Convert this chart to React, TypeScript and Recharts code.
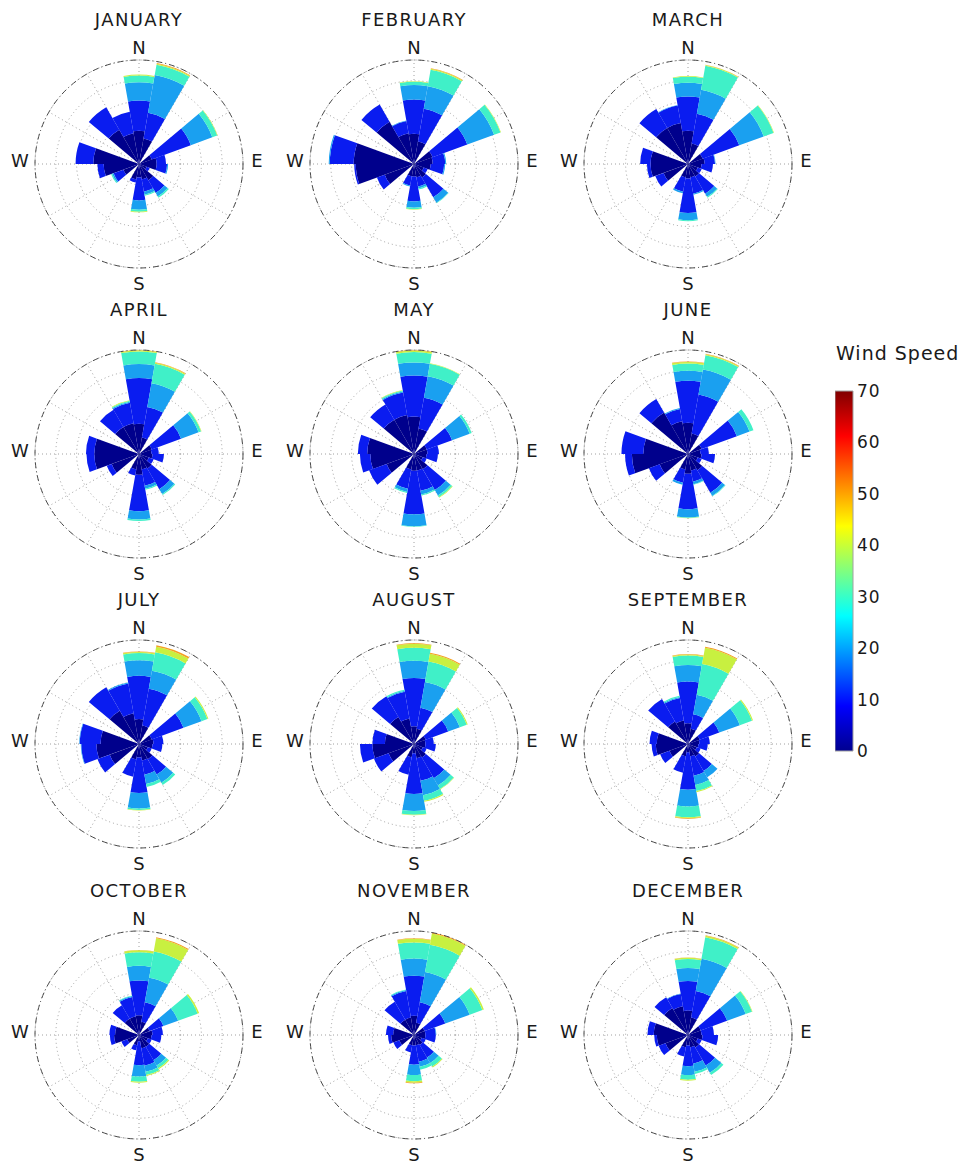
import React from 'react'
import {
  RadialBarChart, RadialBar, PolarAngleAxis, PolarRadiusAxis, PolarGrid,
  BarChart, Bar, XAxis, YAxis,
} from 'recharts'

// direction sectors (degrees clockwise from north), 20 degree bins
const BEARINGS = [0, 20, 40, 60, 80, 100, 120, 140, 160, 180, 200, 220, 240, 260, 280, 300, 320, 340]
const GRID_BEARINGS = [0, 30, 60, 90, 120, 150, 180, 210, 240, 270, 300, 330]
const COMPASS_LABELS = ['N', 'E', 'S', 'W']
const SPEED_TICKS = [0, 10, 20, 30, 40, 50, 60, 70]
// speed classes 0-10, 10-20, 20-30, 30-40, 40-50, 50-60
const BIN_KEYS = ['s0', 's1', 's2', 's3', 's4', 's5']
const BIN_COLORS = ['#00008c', '#0a1cf0', '#1aa0f0', '#40f0c8', '#c8f040', '#f5a020']

// frequency per sector, split by speed class (outer circle = 10)
const JAN = [
  [3.2, 2.9, 1.75, 0.65, 0.1], [2.5, 2.5, 3.7, 1.0, 0.1, 0.05], [0], [1.3, 4.0, 2.2, 0.5, 0.05],
  [1.7, 0.9], [1.7, 1.0, 0.1], [0.8, 0.3], [1.8, 1.4, 0.4, 0.15], [1.5, 1.2, 0.3, 0.1],
  [1.3, 2.2, 0.9, 0.2, 0.05], [1.5, 0.3], [0], [1.6, 1.0, 0.15, 0.1], [3.4, 0.6],
  [4.4, 1.7], [0], [3.8, 2.5], [3.0, 2.1],
]
const FEB = [
  [2.9, 3.3, 1.4, 0.3, 0.05], [2.2, 3.2, 2.2, 1.6, 0.1, 0.05], [0], [1.9, 3.55, 2.75, 0.65, 0.05],
  [1.8, 1.2, 0.1], [1.6, 1.3, 0.1], [1.0, 0.4], [1.5, 2.2, 0.6, 0.05], [1.3, 0.9, 0.2, 0.1],
  [1.2, 2.4, 0.6, 0.15, 0.05], [1.2, 0.9, 0.1], [0], [3.0, 0.8], [5.6, 0.15],
  [5.8, 2.3, 0.1], [0], [4.7, 1.9], [3.0, 1.2, 0.05],
]
const MAR = [
  [3.2, 3.3, 1.3, 0.6, 0.05], [2.0, 2.9, 2.35, 2.35, 0.07, 0.03], [0], [1.5, 3.75, 2.5, 1.0, 0.05],
  [1.6, 1.0, 0.05], [1.3, 1.1], [1.0, 0.4], [1.4, 1.9, 0.35, 0.1], [1.3, 1.6, 0.1],
  [1.4, 3.3, 0.7, 0.1], [1.3, 1.4, 0.15], [0], [2.5, 0.85], [3.6, 0.35],
  [3.6, 1.0], [0], [4.0, 2.1], [4.0, 1.7, 0.05],
]
const APR = [
  [2.9, 4.4, 1.35, 1.2, 0.12, 0.03], [1.6, 3.0, 2.3, 1.9, 0.12, 0.05], [0], [1.3, 3.0, 1.8, 0.25, 0.05],
  [1.2, 0.7], [1.3, 1.1], [1.0, 0.5], [1.6, 2.3, 0.55, 0.1], [1.5, 1.6, 0.3, 0.1],
  [2.0, 3.5, 0.8, 0.15], [1.5, 0.6], [0], [2.8, 0.5], [4.3, 0.75],
  [4.3, 0.8], [0], [3.0, 1.9], [3.0, 2.0, 0.1, 0.1, 0.05],
]
const MAY = [
  [3.6, 3.95, 1.25, 1.0, 0.15, 0.05], [2.5, 3.0, 2.1, 1.2, 0.05], [0], [1.3, 2.6, 1.8, 0.2],
  [1.3, 1.1], [1.2, 1.1], [0.9, 0.4], [1.7, 2.3, 0.6, 0.2, 0.05], [1.6, 2.0, 0.35, 0.1],
  [1.6, 4.2, 1.15, 0.05], [1.5, 1.9, 0.3, 0.1], [0], [2.8, 1.8], [4.2, 1.0],
  [4.5, 0.9], [0], [3.8, 1.7], [3.8, 2.2, 0.1, 0.1, 0.05],
]
const JUN = [
  [3.0, 4.05, 0.95, 0.7, 0.15, 0.05], [2.0, 3.8, 2.45, 1.4, 0.1, 0.05], [0], [1.4, 3.6, 1.3, 0.4],
  [1.2, 0.8], [1.3, 1.3], [1.0, 0.4], [1.8, 2.5, 0.35, 0.05], [1.6, 1.1, 0.25, 0.05],
  [1.9, 3.4, 0.8, 0.05, 0.03], [1.5, 1.3, 0.2], [0], [2.9, 1.1], [5.4, 0.65],
  [4.3, 2.1], [0], [4.6, 1.5], [3.2, 1.2, 0.1],
]
const JUL = [
  [2.4, 4.15, 1.5, 0.7, 0.1, 0.05], [1.8, 3.6, 1.75, 1.8, 0.55, 0.15], [0], [1.3, 3.25, 1.85, 0.6, 0.1],
  [1.4, 0.95], [1.3, 0.95], [0.9, 0.4], [1.7, 1.7, 0.9, 0.25], [1.6, 1.4, 0.9, 0.3],
  [1.3, 3.4, 1.5, 0.15, 0.05], [1.5, 1.7], [0], [3.0, 1.25], [4.1, 1.45, 0.05],
  [3.7, 2.0, 0.05], [0], [3.7, 2.6], [3.0, 2.9, 0.1],
]
const AUG = [
  [1.7, 4.65, 1.65, 1.25, 0.4, 0.05], [1.5, 2.05, 2.5, 2.0, 0.75, 0.1], [0], [1.2, 2.3, 1.2, 0.7, 0.1],
  [1.1, 0.8], [1.1, 1.0], [0.9, 0.4], [1.5, 2.3, 0.8, 0.4, 0.05], [1.4, 2.2, 1.4, 0.55, 0.1],
  [0.9, 3.9, 1.65, 0.35, 0.05], [1.3, 1.7], [0], [2.6, 1.5], [4.0, 1.2],
  [2.8, 1.2], [0], [3.0, 2.3], [2.5, 2.6, 0.1, 0.1],
]
const SEP = [
  [2.0, 4.0, 1.6, 0.9, 0.1, 0.05], [1.5, 1.4, 1.9, 3.0, 1.6, 0.1], [0], [1.2, 2.0, 2.1, 1.25, 0.1],
  [1.1, 1.0], [1.0, 0.9], [0.9, 0.4], [1.4, 1.6, 0.7], [1.2, 1.9, 0.9, 0.6, 0.1],
  [0.8, 3.6, 1.6, 1.05, 0.1, 0.05], [1.2, 1.6], [0], [1.9, 0.95], [3.1, 0.4],
  [3.0, 0.7], [0], [2.5, 2.5], [2.3, 2.2, 0.1, 0.1],
]
const OCT = [
  [1.9, 3.35, 1.4, 1.3, 0.2, 0.03], [1.3, 1.9, 2.4, 2.55, 1.3, 0.1], [0], [1.1, 1.4, 1.5, 2.0, 0.15],
  [1.3, 1.0], [1.2, 0.95], [0.9, 0.4], [1.3, 1.5, 0.6, 0.3, 0.1], [1.3, 1.7, 0.6, 0.3, 0.1],
  [0.6, 2.3, 1.1, 0.5, 0.1], [1.0, 0.5], [0], [1.2, 0.6], [2.4, 0.4],
  [2.3, 0.55], [0], [1.8, 1.5], [1.8, 1.9, 0.1, 0.05],
]
const NOV = [
  [1.85, 3.85, 1.65, 1.55, 0.35, 0.05], [1.2, 2.0, 2.95, 2.65, 1.1, 0.1], [0], [1.1, 2.1, 2.5, 1.3, 0.15],
  [1.1, 1.0, 0.05], [1.1, 1.0], [0.8, 0.4], [1.1, 1.4, 0.6, 0.4, 0.1], [1.0, 1.6, 0.5, 0.3],
  [1.0, 1.85, 1.0, 0.6, 0.15, 0.05], [1.0, 0.7], [0], [1.5, 0.6], [2.2, 0.3],
  [2.0, 0.7], [0], [1.7, 2.0], [1.7, 2.6, 0.1, 0.05],
]
const DEC = [
  [2.35, 2.85, 1.25, 0.85, 0.12, 0.03], [1.7, 2.6, 3.15, 2.1, 0.15, 0.05], [0], [1.3, 2.7, 1.9, 0.65, 0.05],
  [1.3, 1.2], [1.4, 1.5], [1.0, 0.4], [1.4, 2.0, 0.8, 0.25], [1.2, 1.6, 0.8, 0.2],
  [1.0, 2.0, 0.85, 0.45, 0.1], [1.2, 0.9], [0], [2.3, 0.7], [3.0, 0.25],
  [3.3, 0.6], [0], [3.0, 1.2], [2.8, 1.2, 0.05],
]

const MONTHS = [
  { name: 'JANUARY', rows: JAN }, { name: 'FEBRUARY', rows: FEB }, { name: 'MARCH', rows: MAR },
  { name: 'APRIL', rows: APR }, { name: 'MAY', rows: MAY }, { name: 'JUNE', rows: JUN },
  { name: 'JULY', rows: JUL }, { name: 'AUGUST', rows: AUG }, { name: 'SEPTEMBER', rows: SEP },
  { name: 'OCTOBER', rows: OCT }, { name: 'NOVEMBER', rows: NOV }, { name: 'DECEMBER', rows: DEC },
]

const COL_X = [139, 414, 688]
const ROW_Y = [164, 454, 744, 1035]
const FONT = '"DejaVu Sans", Verdana, sans-serif'
const R = 104
const HALF = 135
// label offsets from the rose centre: N, E, S, W
const COMPASS_POS = [[0, -116], [118, -3], [0, 120], [-119, -3]]

const JET_STOPS: [number, string][] = [
  [0, '#00008f'], [0.125, '#0000ff'], [0.375, '#00ffff'],
  [0.625, '#ffff00'], [0.875, '#ff0000'], [1, '#800000'],
]

function toRows(rows: number[][]) {
  return BEARINGS.map((b, i) => {
    const row: any = { dir: String(b) }
    BIN_KEYS.forEach((k, j) => { row[k] = rows[i][j] ?? 0 })
    return row
  })
}

function Rose({ rows }: { rows: number[][] }) {
  const data = toRows(rows)
  return (
    <RadialBarChart
      width={HALF * 2} height={HALF * 2} data={data}
      cx={HALF} cy={HALF} innerRadius={0} outerRadius={R}
      startAngle={80} endAngle={-280}
      layout="centric" barCategoryGap={0} margin={{ top: 0, right: 0, bottom: 0, left: 0 }}
    >
      <PolarGrid
        gridType="circle"
        polarAngles={GRID_BEARINGS.map(b => 90 - b)}
        stroke="#a0a0a0" strokeDasharray="1 3"
      />
      <PolarAngleAxis
        type="category" dataKey="dir" tick={false} tickLine={false}
        axisLineType="circle"
        axisLine={{ stroke: '#4a4a4a', strokeDasharray: '6 3 1 3', strokeWidth: 1 }}
      />
      <PolarRadiusAxis type="number" domain={[0, 10]} tickCount={6} tick={false} axisLine={false} />
      {BIN_KEYS.map((k, j) => (
        <RadialBar key={k} dataKey={k} stackId="ws" fill={BIN_COLORS[j]} isAnimationActive={false} />
      ))}
    </RadialBarChart>
  )
}

function ColorBar() {
  return (
    <BarChart width={66} height={384} data={[{ name: 'ws', v: 70 }]} barCategoryGap={0}
      margin={{ top: 12, right: 0, bottom: 12, left: 0 }}>
      <defs>
        <linearGradient id="jet" x1="0" y1="1" x2="0" y2="0">
          {JET_STOPS.map(([o, c]) => <stop key={o} offset={o} stopColor={c} />)}
        </linearGradient>
      </defs>
      <XAxis dataKey="name" hide />
      <YAxis orientation="right" domain={[0, 70]} ticks={SPEED_TICKS} width={48}
        axisLine={false} tickLine={false} tickSize={2} interval={0}
        tick={{ fontSize: 17, fill: '#1a1a1a', fontFamily: FONT, letterSpacing: 1 }} />
      <Bar dataKey="v" fill="url(#jet)" stroke="#a0a0a0" isAnimationActive={false} />
    </BarChart>
  )
}

export default function App() {
  return (
    <div style={{ position: 'absolute', left: 0, top: 0, width: 968, height: 1167, background: '#fff', fontFamily: FONT, color: '#1a1a1a' }}>
      {MONTHS.map((m, i) => {
        const cx = COL_X[i % 3]
        const cy = ROW_Y[Math.floor(i / 3)]
        return (
          <React.Fragment key={m.name}>
            <div style={{
              position: 'absolute', left: cx - 110, top: cy - 156, width: 220,
              textAlign: 'center', fontSize: 18, lineHeight: '24px', letterSpacing: 1.4,
            }}>{m.name}</div>
            <div style={{ position: 'absolute', left: cx - HALF, top: cy - HALF }}>
              <Rose rows={m.rows} />
            </div>
            {COMPASS_LABELS.map((lab, k) => (
              <div key={lab} style={{
                position: 'absolute', left: cx + COMPASS_POS[k][0] - 15, top: cy + COMPASS_POS[k][1] - 12,
                width: 30, textAlign: 'center', fontSize: 18, lineHeight: '24px',
              }}>{lab}</div>
            ))}
          </React.Fragment>
        )
      })}
      <div style={{ position: 'absolute', left: 836, top: 341, fontSize: 19, lineHeight: '24px', letterSpacing: 1, whiteSpace: 'nowrap' }}>
        Wind Speed
      </div>
      <div style={{ position: 'absolute', left: 835, top: 379 }}>
        <ColorBar />
      </div>
    </div>
  )
}
